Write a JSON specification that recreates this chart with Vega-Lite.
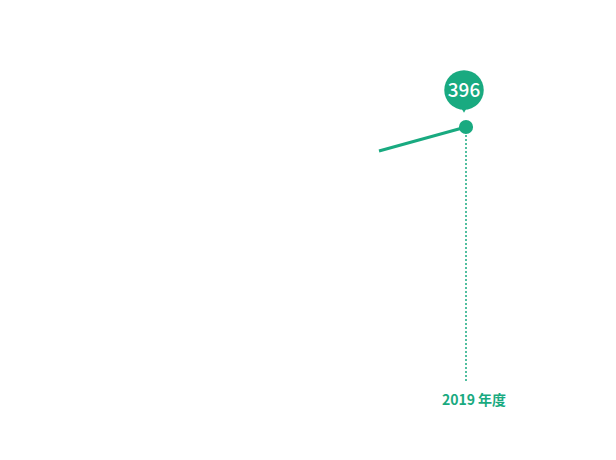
{
  "$schema": "https://vega.github.io/schema/vega-lite/v6.json",
  "width": 616,
  "height": 460,
  "autosize": {"type": "fit", "contains": "padding"},
  "padding": 0,
  "background": "white",
  "data": {
    "values": [
      {"year": 2018, "value": 380, "label": "2018 年度"},
      {"year": 2019, "value": 396, "label": "2019 年度"}
    ]
  },
  "encoding": {
    "x": {
      "field": "year",
      "type": "quantitative",
      "scale": {"domain": [2013.644, 2020.724], "nice": false, "zero": false},
      "axis": null
    },
    "y": {
      "field": "value",
      "type": "quantitative",
      "scale": {"domain": [174, 480.67], "nice": false, "zero": false},
      "axis": null
    }
  },
  "layer": [
    {
      "mark": {"type": "line", "color": "#19aa80", "strokeWidth": 3},
      "encoding": {}
    },
    {
      "transform": [{"filter": "datum.year == 2019"}],
      "mark": {"type": "rule", "color": "#19aa80", "strokeWidth": 1.5, "strokeDash": [2, 2]},
      "encoding": {"y2": {"datum": 226}}
    },
    {
      "transform": [{"filter": "datum.year == 2019"}],
      "mark": {"type": "point", "shape": "circle", "filled": true, "color": "#19aa80", "opacity": 1, "size": 200}
    },
    {
      "transform": [{"filter": "datum.year == 2019"}],
      "mark": {"type": "point", "shape": "triangle-down", "filled": true, "color": "#19aa80", "opacity": 1, "size": 70, "xOffset": -2, "yOffset": -18}
    },
    {
      "transform": [{"filter": "datum.year == 2019"}],
      "mark": {"type": "point", "shape": "circle", "filled": true, "color": "#19aa80", "opacity": 1, "size": 1560, "xOffset": -2, "yOffset": -37}
    },
    {
      "transform": [{"filter": "datum.year == 2019"}],
      "mark": {"type": "text", "color": "white", "font": "Noto Sans CJK JP", "fontWeight": 500, "fontSize": 19, "baseline": "middle", "align": "center", "xOffset": -2, "yOffset": -36},
      "encoding": {"text": {"field": "value", "type": "quantitative"}}
    },
    {
      "transform": [{"filter": "datum.year == 2019"}],
      "mark": {"type": "text", "color": "#19aa80", "font": "Noto Sans CJK JP", "fontWeight": "bold", "fontSize": 14, "baseline": "middle", "align": "center", "dx": 8},
      "encoding": {"y": {"datum": 213.3}, "text": {"field": "label"}}
    }
  ],
  "config": {"view": {"stroke": null}}
}
